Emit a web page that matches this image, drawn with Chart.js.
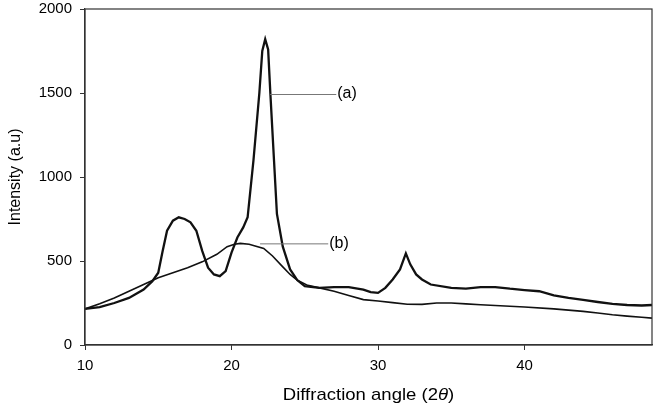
<!DOCTYPE html>
<html lang="en">
<head>
<meta charset="UTF-8">
<title>XRD patterns</title>
<script src="https://cdn.jsdelivr.net/npm/chart.js"></script>
<style>
    body { margin: 0; background: #fff; }
    #wrap { width: 657px; height: 406px; }
</style>
</head>
<body>
<div id="wrap"><canvas id="xrd"></canvas></div>
<script>
// curve (a): sharp crystalline peaks
const angleA = [10, 11, 12, 13, 14, 14.6, 15.0, 15.3, 15.6, 16.0, 16.4, 16.8, 17.2, 17.6, 18.0, 18.4, 18.8, 19.2, 19.6,
    20.0, 20.4, 20.8, 21.1, 21.5, 21.9, 22.1, 22.3, 22.5, 22.65, 22.9, 23.1, 23.5, 24.0, 24.5, 25, 26, 27, 28, 29, 29.5,
    30, 30.5, 31, 31.5, 31.9, 32.2, 32.6, 33, 33.6, 35, 36, 37, 38, 39, 40, 41, 42, 43, 44, 45, 46, 47, 48, 48.7];
const intensityA = [215, 225, 250, 280, 330, 380, 430, 560, 680, 740, 760, 750, 730, 680, 560, 460, 420, 410, 440,
    550, 640, 700, 760, 1100, 1500, 1750, 1820, 1760, 1500, 1100, 780, 585, 450, 385, 350, 340, 345, 345, 330, 315,
    310, 340, 390, 450, 545, 480, 420, 390, 360, 340, 335, 345, 345, 335, 327, 320, 295, 280, 268, 256, 245, 238, 235, 238];

// curve (b): broad amorphous hump
const angleB = [10, 11, 12, 13, 14, 15, 16, 17, 18, 19, 19.7, 20.2, 20.6, 21.2, 22.2, 22.8, 23.5, 24, 24.5, 25.2,
    26, 27, 28, 29, 30, 31, 32, 33, 34, 35, 36, 37, 38, 40, 42, 44, 45, 46, 47, 48, 48.7];
const intensityB = [215, 245, 280, 320, 360, 400, 430, 460, 495, 540, 585, 600, 605, 600, 575, 530, 465, 420, 385, 355,
    340, 320, 295, 270, 262, 252, 243, 242, 250, 250, 245, 240, 235, 226, 215, 200, 190, 180, 172, 165, 160];

const xTicks = [10, 20, 30, 40];
const yTicks = [0, 500, 1000, 1500, 2000];

// leader lines for the curve labels: [label, fromX, toX, atY]
const curveLabels = ['(a)', '(b)'];
const labelFromX = [22.64, 21.95];
const labelToX = [27.15, 26.6];
const labelAtY = [1494, 605];

const FONT = '"Liberation Sans", Arial, sans-serif';

function toPoints(xs, ys) {
    return xs.map((x, i) => ({ x: x, y: ys[i] }));
}

const extras = {
    id: 'extras',
    afterDraw(chart) {
        const ctx = chart.ctx;
        const a = chart.chartArea;
        const xs = chart.scales.x, ys = chart.scales.y;
        ctx.save();
        // box round the plot
        ctx.strokeStyle = '#333';
        ctx.lineWidth = 1.2;
        ctx.strokeRect(a.left, a.top, a.right - a.left, a.bottom - a.top);

        // leader lines and labels
        ctx.strokeStyle = '#777';
        ctx.lineWidth = 1;
        ctx.fillStyle = '#000';
        ctx.font = '16px ' + FONT;
        ctx.textBaseline = 'middle';
        ctx.textAlign = 'left';
        curveLabels.forEach((lab, i) => {
            const y = ys.getPixelForValue(labelAtY[i]);
            const x0 = xs.getPixelForValue(labelFromX[i]);
            const x1 = xs.getPixelForValue(labelToX[i]);
            ctx.beginPath();
            ctx.moveTo(x0, y + 0.5);
            ctx.lineTo(x1, y + 0.5);
            ctx.stroke();
            ctx.fillText(lab, x1 + 1, y);
        });

        // x axis title with italic theta (slightly widened like the original)
        const parts = [['Diffraction angle (2', 'normal'], ['\u03b8', 'italic'], [')', 'normal']];
        const sx = 1.09;
        ctx.textBaseline = 'alphabetic';
        let total = 0;
        parts.forEach(p => { ctx.font = p[1] + ' 17px ' + FONT; total += ctx.measureText(p[0]).width; });
        const cx = (a.left + a.right) / 2;
        ctx.translate(cx, 400);
        ctx.scale(sx, 1);
        let x = -total / 2;
        parts.forEach(p => {
            ctx.font = p[1] + ' 17px ' + FONT;
            ctx.fillText(p[0], x, 0);
            x += ctx.measureText(p[0]).width;
        });
        ctx.restore();
    }
};

new Chart(document.getElementById('xrd'), {
    type: 'line',
    data: {
        datasets: [
            {
                label: '(a)',
                data: toPoints(angleA, intensityA),
                borderColor: '#111',
                borderWidth: 2.3,
                pointRadius: 0,
                tension: 0
            },
            {
                label: '(b)',
                data: toPoints(angleB, intensityB),
                borderColor: '#111',
                borderWidth: 1.6,
                pointRadius: 0,
                tension: 0
            }
        ]
    },
    options: {
        responsive: true,
        maintainAspectRatio: false,
        animation: false,
        layout: { padding: { top: 9, right: 5, left: 0, bottom: 0 } },
        plugins: { legend: { display: false }, tooltip: { enabled: false } },
        scales: {
            x: {
                type: 'linear',
                min: 10,
                max: 48.7,
                afterFit(s) { s.height = 61; s.paddingLeft = 0; s.paddingRight = 0; },
                afterBuildTicks(s) { s.ticks = xTicks.map(v => ({ value: v })); },
                border: { display: true, color: '#333', width: 1.2 },
                grid: { drawOnChartArea: false, drawTicks: true, tickLength: 5, color: '#333' },
                ticks: { color: '#000', font: { family: FONT, size: 15 }, padding: 7, maxRotation: 0,
                    callback: v => String(v) }
            },
            y: {
                min: 0,
                max: 2000,
                afterFit(s) { s.width = 85; s.paddingTop = 0; s.paddingBottom = 0; },
                afterBuildTicks(s) { s.ticks = yTicks.map(v => ({ value: v })); },
                border: { display: true, color: '#333', width: 1.2 },
                grid: { drawOnChartArea: false, drawTicks: true, tickLength: 5, color: '#333' },
                ticks: { color: '#000', font: { family: FONT, size: 15 }, padding: 8,
                    callback: v => String(v) },
                title: {
                    display: true,
                    text: 'Intensity (a.u)',
                    color: '#000',
                    font: { family: FONT, size: 16 },
                    padding: { top: 6, bottom: 4 }
                }
            }
        }
    },
    plugins: [extras]
});
</script>
</body>
</html>
